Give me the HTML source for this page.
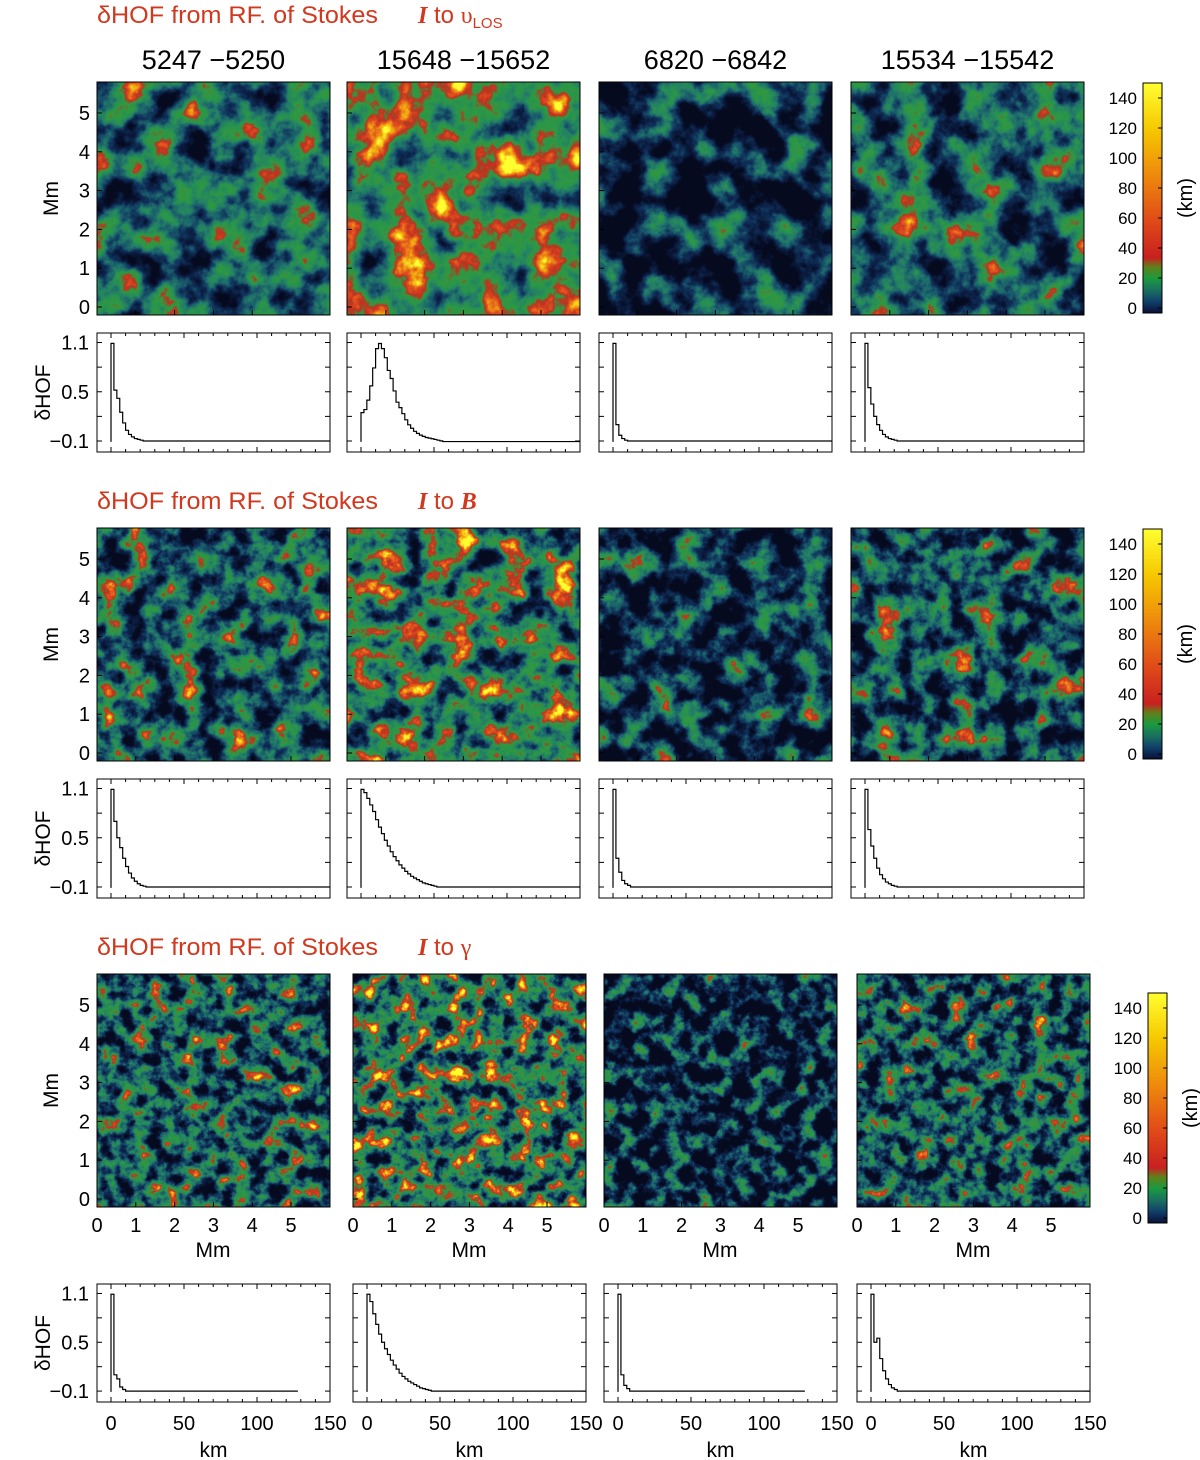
<!DOCTYPE html>
<html><head><meta charset="utf-8">
<style>
html,body{margin:0;padding:0;background:#fff;}
svg{display:block;font-family:"Liberation Sans",sans-serif;}
</style></head>
<body>
<svg id="fig" width="1200" height="1460" viewBox="0 0 1200 1460" xmlns="http://www.w3.org/2000/svg">
<defs id="defs"></defs>
</svg>
<script>
// ---- data ----
const columnLabels = ["5247 \u22125250","15648 \u221215652","6820 \u22126842","15534 \u221215542"];
const rowTargets = ["vlos","B","gamma"];
const mapTicks = [0,1,2,3,4,5];
const cbTicks = [0,20,40,60,80,100,120,140];
const histXTicks = [0,50,100,150];
const histYTicks = [-0.1,0.5,1.1];
const binWidth = 2; // km
const h_r1c1 = [1.09,0.52,0.42,0.25,0.12,0.03,-0.02,-0.05,-0.07,-0.08,-0.09,-0.1,-0.1];
const h_r1c2 = [0.246,0.283,0.398,0.572,0.79,1.026,1.088,1.026,0.915,0.76,0.662,0.51,0.373,0.307,0.233,0.158,0.097,0.055,0.018,-0.007,-0.028,-0.044,-0.057,-0.065,-0.073,-0.081,-0.09,-0.098,-0.107];
const h_r1c3 = [1.09,0.1,-0.03,-0.07,-0.09,-0.1];
const h_r1c4 = [1.09,0.55,0.35,0.2,0.1,0.03,-0.02,-0.05,-0.07,-0.08,-0.09,-0.1];
const h_r2c1 = [1.09,0.7,0.5,0.38,0.25,0.15,0.07,0.01,-0.03,-0.06,-0.08,-0.09,-0.1];
const h_r2c2 = [1.09,1.05,0.98,0.9,0.82,0.72,0.63,0.55,0.47,0.4,0.33,0.27,0.22,0.17,0.13,0.09,0.06,0.03,0.01,-0.01,-0.03,-0.05,-0.06,-0.07,-0.08,-0.09,-0.1];
const h_r2c3 = [1.09,0.25,0.08,-0.02,-0.06,-0.08,-0.1];
const h_r2c4 = [1.09,0.6,0.4,0.25,0.13,0.05,0,-0.04,-0.06,-0.08,-0.09,-0.1];
const h_r3c1 = [1.09,0.1,0.05,-0.05,-0.08,-0.1];
const h_r3c2 = [1.09,1.0,0.85,0.72,0.6,0.5,0.42,0.35,0.28,0.22,0.17,0.12,0.08,0.05,0.02,0,-0.02,-0.04,-0.06,-0.07,-0.08,-0.09,-0.1];
const h_r3c3 = [1.09,0.1,-0.03,-0.07,-0.1];
const h_r3c4 = [1.09,0.5,0.55,0.3,0.15,0.05,-0.02,-0.06,-0.08,-0.1];
const histFloor = -0.11;
const histSeries = [[h_r1c1,h_r1c2,h_r1c3,h_r1c4],[h_r2c1,h_r2c2,h_r2c3,h_r2c4],[h_r3c1,h_r3c2,h_r3c3,h_r3c4]];
const histEnd = [[150,150,150,150],[150,150,150,150],[128,150,128,150]];

// ---- layout ----
const NS="http://www.w3.org/2000/svg";
const svg=document.getElementById('fig');
const defs=document.getElementById('defs');
function el(tag,attrs,parent){const e=document.createElementNS(NS,tag);for(const k in attrs)e.setAttribute(k,attrs[k]);(parent||svg).appendChild(e);return e;}
const red="#d2381e";
const rows=[
 {title:23,mapY:82,histY:333,histH:119,xs:[97,347,599,851],hxs:[97,347,599,851],cbX:1143,cbY:83,freq:0.028,xLabels:false},
 {title:509,mapY:528,histY:779,histH:119,xs:[97,347,599,851],hxs:[97,347,599,851],cbX:1143,cbY:529,freq:0.04,xLabels:false},
 {title:955,mapY:974,histY:1284,histH:118,xs:[97,353,604,857],hxs:[97,353,604,857],cbX:1148,cbY:993,freq:0.06,xLabels:true}
];
const MW=233,MH=233;
const shade=[[[0.34,1.6],[0.55,1.5],[0.14,1.6],[0.32,1.6]],[[0.32,1.7],[0.46,1.7],[0.18,1.6],[0.30,1.7]],[[0.32,1.7],[0.44,1.8],[0.14,1.7],[0.30,1.7]]];
const tR="0.02 0.04 0.06 0.10 0.14 0.16 0.19 0.75 0.88 0.94 1.0";
const tG="0.04 0.10 0.19 0.36 0.50 0.58 0.60 0.19 0.31 0.63 1.0";
const tB="0.125 0.23 0.35 0.42 0.40 0.30 0.25 0.125 0.125 0.06 0.19";

const lg=el('linearGradient',{id:'cbgrad',x1:0,y1:1,x2:0,y2:0},defs);
[[0,"#0a0f35"],[0.05,"#10406a"],[0.1,"#1a7060"],[0.15,"#1a9a40"],[0.2,"#60801a"],[0.24,"#c82020"],[0.4,"#e04a18"],[0.6,"#ee8a0c"],[0.8,"#f6c800"],[1,"#ffff30"]].forEach(s=>el('stop',{offset:s[0],'stop-color':s[1]},lg));

function ttext(x,y,s,size,anchor,parent,extra){const t=el('text',Object.assign({x:x,y:y,'font-size':size,'text-anchor':anchor||'start',fill:'#000'},extra||{}),parent);t.textContent=s;return t;}

rows.forEach((r,ri)=>{
 const tg=el('g',{});
 
 
 ttext(97,r.title,"\u03B4HOF from RF. of Stokes",24,'start',tg,{fill:red,textLength:281,lengthAdjust:'spacingAndGlyphs'});
 const t2=el('text',{x:418,y:r.title,'font-size':24,fill:red},tg);
 const ti=el('tspan',{'font-family':'Liberation Serif, serif','font-style':'italic','font-weight':'bold'},t2);ti.textContent="I";
 const tt=el('tspan',{},t2);tt.textContent=" to ";
 if(ri===0){const u=el('tspan',{'font-family':'Liberation Serif, serif'},t2);u.textContent="\u03C5";const s=el('tspan',{'font-size':15,dy:5},t2);s.textContent="LOS";}
 else if(ri===1){const b=el('tspan',{'font-family':'Liberation Serif, serif','font-style':'italic','font-weight':'bold'},t2);b.textContent="B";}
 else {const g=el('tspan',{'font-family':'Liberation Serif, serif'},t2);g.textContent="\u03B3";}

 if(ri===0){columnLabels.forEach((c,ci)=>{const h=ttext(r.xs[ci]+MW/2,69,c,27,'middle');});}

 r.xs.forEach((x,ci)=>{
  const fid='f'+ri+ci;
  const f=el('filter',{id:fid,x:0,y:0,width:1,height:1,'color-interpolation-filters':'sRGB'},defs);
  el('feTurbulence',{type:'fractalNoise',baseFrequency:r.freq,numOctaves:5,seed:ri*7+ci*3+1,result:'n'},f);
  const [b,a]=shade[ri][ci];const c=(b-a*0.5).toFixed(3);
  el('feColorMatrix',{type:'matrix',values:`${a} 0 0 0 ${c} ${a} 0 0 0 ${c} ${a} 0 0 0 ${c} 0 0 0 0 1`},f);
  const ct=el('feComponentTransfer',{},f);
  el('feFuncR',{type:'table',tableValues:tR},ct);el('feFuncG',{type:'table',tableValues:tG},ct);el('feFuncB',{type:'table',tableValues:tB},ct);
  const m=el('rect',{x:x,y:r.mapY,width:MW,height:MH,filter:`url(#${fid})`});
  
  
  el('rect',{x:x,y:r.mapY,width:MW,height:MH,fill:'none',stroke:'#000','stroke-width':1});
  const ys=v=>r.mapY+MH-8-v*38.8, xs=v=>x+v*38.8;
  mapTicks.forEach(v=>{el('line',{x1:x,x2:x+5,y1:ys(v),y2:ys(v),stroke:'#000'});el('line',{x1:xs(v),x2:xs(v),y1:r.mapY+MH,y2:r.mapY+MH-5,stroke:'#000'});});
  if(ci===0){mapTicks.forEach(v=>{const l=ttext(x-7,ys(v)+7,String(v),20,'end');});
   const yt=ttext(0,0,"Mm",21,'middle',svg,{transform:`translate(58,${r.mapY+MH/2}) rotate(-90)`});}
  if(r.xLabels){mapTicks.forEach(v=>{const l=ttext(xs(v),r.mapY+MH+25,String(v),20,'middle');});
   const xt=ttext(x+116,r.mapY+MH+50,"Mm",21,'middle');}
 });

 const cb=el('rect',{x:r.cbX,y:r.cbY,width:19,height:230,fill:'url(#cbgrad)',stroke:'#000'});
 
 const cy=v=>r.cbY+225-v*1.5;
 cbTicks.forEach(v=>{el('line',{x1:r.cbX+15,x2:r.cbX+19,y1:cy(v),y2:cy(v),stroke:'#000'});const l=ttext(r.cbX-6,cy(v)+6,String(v),17,'end');});
 const kt=ttext(0,0,"(km)",20,'middle',svg,{transform:`translate(${r.cbX+49},${r.cbY+115}) rotate(-90)`});

 r.hxs.forEach((x,ci)=>{
  const W=233,H=r.histH,y0=r.histY;
  const X=v=>x+14+v*(W-14)/150;
  const Y=v=>y0+(1.216-v)*(H/1.45);
  el('rect',{x:x,y:y0,width:W,height:H,fill:'#fff',stroke:'#000'});
  for(let k=0;k<=150;k+=10){const len=k%50===0?5:3;el('line',{x1:X(k),x2:X(k),y1:y0+H,y2:y0+H-len,stroke:'#000'});el('line',{x1:X(k),x2:X(k),y1:y0,y2:y0+len,stroke:'#000'});}
  [-0.1,0.2,0.5,0.8,1.1].forEach(v=>{el('line',{x1:x,x2:x+5,y1:Y(v),y2:Y(v),stroke:'#000'});el('line',{x1:x+W,x2:x+W-5,y1:Y(v),y2:Y(v),stroke:'#000'});});
  if(ci===0){histYTicks.forEach(v=>{const l=ttext(x-8,Y(v)+7,v===-0.1?"\u22120.1":String(v),20,'end');});
   const yt=ttext(0,0,"\u03B4HOF",21,'middle',svg,{transform:`translate(50,${y0+H/2}) rotate(-90)`});}
  if(r.xLabels){histXTicks.forEach(v=>{const l=ttext(X(v),y0+H+28,String(v),20,'middle');});
   const xt=ttext(x+W/2,y0+H+55,"km",21,'middle');}
  const vals=histSeries[ri][ci];
  let d=`M${X(0)},${Y(histFloor)}`;
  vals.forEach((v,i)=>{d+=` L${X(i*binWidth)},${Y(v)} L${X((i+1)*binWidth)},${Y(v)}`;});
  const last=vals[vals.length-1];
  d+=` L${X(histEnd[ri][ci])},${Y(last)}`;
  const p=el('path',{d:d,fill:'none',stroke:'#000','stroke-width':1.2});
  
  
 });
});
</script>
</body></html>
